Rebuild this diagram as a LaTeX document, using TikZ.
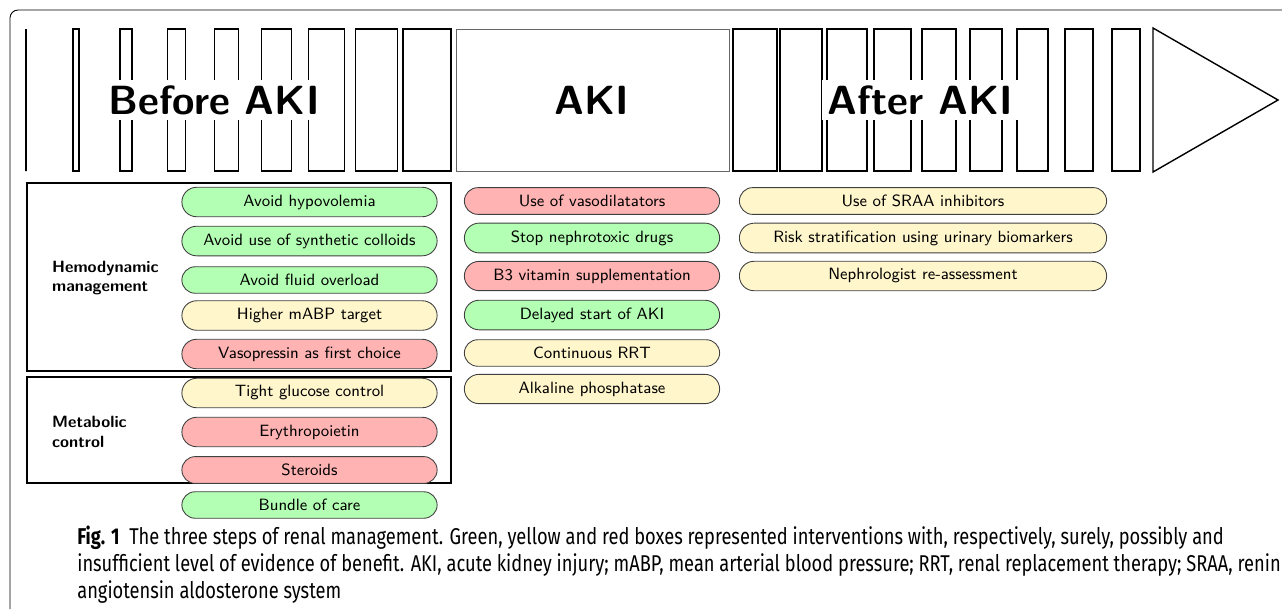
\documentclass[tikz,border=0pt]{standalone}
\usepackage{fontspec}
\newfontfamily\capfont[FakeStretch=0.8]{Fira Sans}
\usetikzlibrary{shapes.misc}

\definecolor{goodgreen}{RGB}{179,255,179}
\definecolor{maybeyellow}{RGB}{255,246,204}
\definecolor{poorred}{RGB}{255,179,179}

\tikzset{
	bar/.style={draw, line width=0.8pt},
	phase/.style={font=\sffamily\bfseries\fontsize{23.2}{27}\selectfont, fill=white, inner sep=3pt},
	pill/.style={rounded rectangle, draw=black!75, line width=0.5pt, font=\sffamily\fontsize{9.3}{11}\selectfont, inner ysep=4.2pt, minimum width=5.34cm},
	widepill/.style={pill, minimum width=7.58cm},
	sure/.style={fill=goodgreen},
	maybe/.style={fill=maybeyellow},
	poor/.style={fill=poorred},
	group/.style={draw, line width=0.6pt},
	grouplabel/.style={font=\sffamily\bfseries\fontsize{9.3}{11.3}\selectfont, align=left, anchor=west},
}

\begin{document}
\begin{tikzpicture}[x=0.02cm, y=-0.02cm]

	\useasboundingbox (0,0) rectangle (1282,609);
	\draw[line width=0.5pt, rounded corners=0.16cm] (10,609) -- (10,10) -- (1282,10);

	% time line
	\foreach \i in {0,...,8}
		\draw[bar] ({26+47.1*\i},29) rectangle ++({6*\i},142);
	\draw[draw=black!60, line width=0.4pt] (456,29) rectangle (729,171);
	\foreach \s/\w in {733/44, 780/42, 827/40, 874/37, 922/34, 970/32, 1017/31, 1065/28, 1112/28}
		\draw[bar] (\s,29) rectangle ++(\w,142);
	\draw[bar] (1153,28) -- (1278,100) -- (1153,172) -- cycle;

	\node[phase] at (214,100) (before) {Before AKI};
	\node[phase, fill=none] at (592,100) (aki) {AKI};
	\node[phase] at (920.5,100) (after) {After AKI};

	% before AKI
	\draw[group] (27,183) rectangle (451,371);
	\draw[group] (27,377) rectangle (451,483);
	\node[grouplabel] at (46,278) (hemo) {Hemodynamic\\management};
	\node[grouplabel] at (46,432) (meta) {Metabolic\\control};

	\node[pill, sure] at (309.5,202) (b1) {Avoid hypovolemia};
	\node[pill, sure] at (309.5,241) (b2) {Avoid use of synthetic colloids};
	\node[pill, sure] at (309.5,280) (b3) {Avoid fluid overload};
	\node[pill, maybe] at (309.5,315.5) (b4) {Higher mABP target};
	\node[pill, poor] at (309.5,354) (b5) {Vasopressin as first choice};
	\node[pill, maybe] at (309.5,393) (b6) {Tight glucose control};
	\node[pill, poor] at (309.5,432) (b7) {Erythropoietin};
	\node[pill, poor] at (309.5,470) (b8) {Steroids};
	\node[pill, sure] at (309.5,505) (b9) {Bundle of care};

	% AKI
	\node[pill, poor] at (592,201) (a1) {Use of vasodilatators};
	\node[pill, sure] at (592,238) (a2) {Stop nephrotoxic drugs};
	\node[pill, poor] at (592,276) (a3) {B3 vitamin supplementation};
	\node[pill, sure] at (592,315) (a4) {Delayed start of AKI};
	\node[pill, maybe] at (592,353) (a5) {Continuous RRT};
	\node[pill, maybe] at (592,389) (a6) {Alkaline phosphatase};

	% after AKI
	\node[widepill, maybe] at (923,201) (c1) {Use of SRAA inhibitors};
	\node[widepill, maybe] at (923,238) (c2) {Risk stratification using urinary biomarkers};
	\node[widepill, maybe] at (923,276) (c3) {Nephrologist re-assessment};

	\node[anchor=north west, align=left, inner sep=0pt, font=\capfont\fontsize{13}{15.3}\selectfont] at (77,526) (caption)
		{\textbf{Fig. 1}\ \ The three steps of renal management. Green, yellow and red boxes represented interventions with, respectively, surely, possibly and\\
		insufficient level of evidence of benefit. AKI, acute kidney injury; mABP, mean arterial blood pressure; RRT, renal replacement therapy; SRAA, renin\\
		angiotensin aldosterone system};

\end{tikzpicture}
\end{document}
